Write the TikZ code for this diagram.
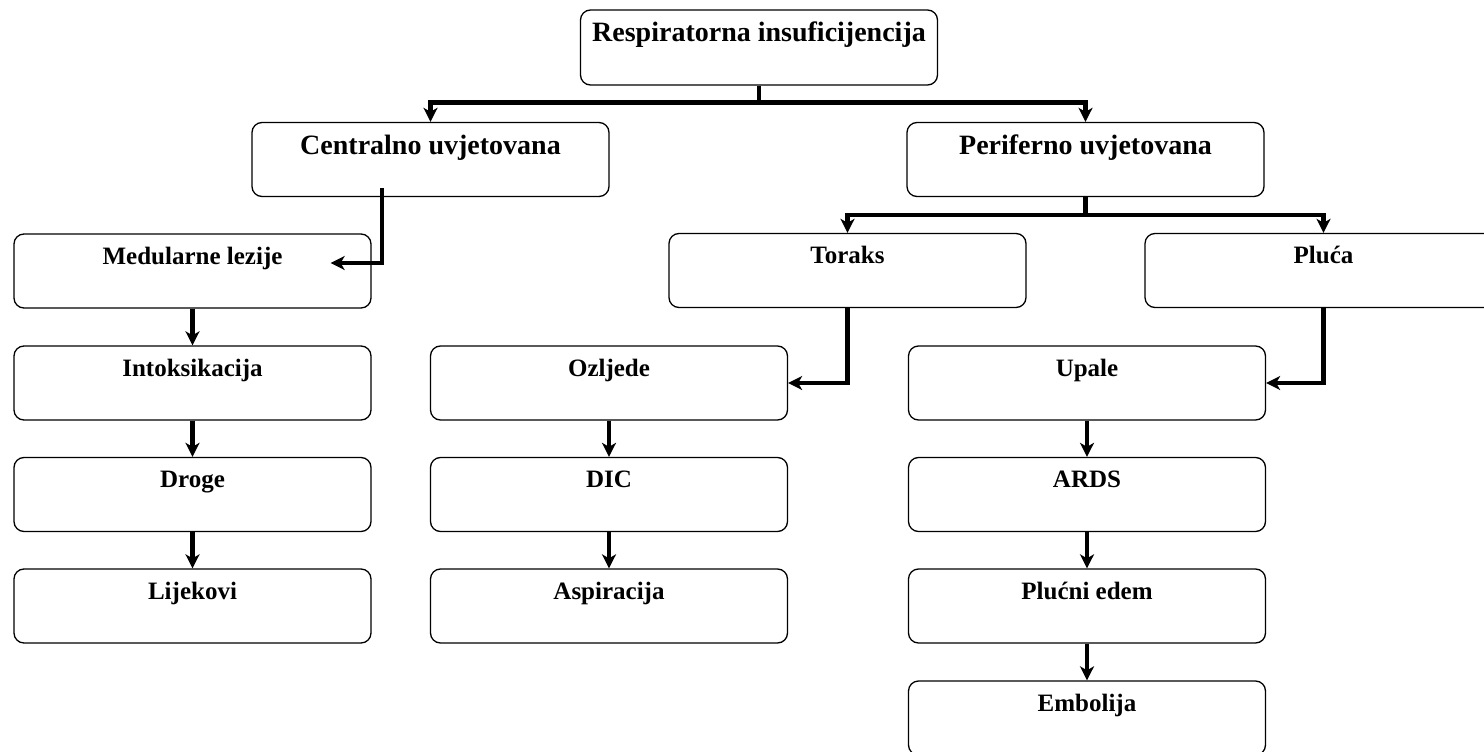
\documentclass[tikz,border=0pt]{standalone}
\usepackage{fontspec}
\setmainfont{Liberation Serif}
\usetikzlibrary{arrows.meta}

\tikzset{
  box/.style={draw, line width=1.3pt, rounded corners=10pt, minimum width=357pt,
    inner sep=0pt, text height=30pt, text depth=44pt,
    font=\fontsize{25}{30}\selectfont\bfseries},
  headbox/.style={box, text height=32pt, text depth=42pt,
    font=\fontsize{28}{32}\selectfont\bfseries},
  link/.style={line width=4.5pt, -{Stealth[length=14pt,width=14pt,inset=4pt]}}
}

\begin{document}
\begin{tikzpicture}[x=1pt,y=-1pt]
  \useasboundingbox (0,0) rectangle (1484,752);
  \clip (0,0) rectangle (1484,752);

  % Top levels
  \node[headbox, text depth=43pt] (resp) at (759,47.5) {Respiratorna insuficijencija};
  \node[headbox] (cent) at (430.5,159.5) {Centralno uvjetovana};
  \node[headbox] (peri) at (1085.5,159.5) {Periferno uvjetovana};

  \node[box] (tor) at (847.5,270.5) {Toraks};
  \node[box] (plu) at (1323.5,270.5) {Pluća};

  % Left column
  \node[box] (med) at (192.5,271) {Medularne lezije};
  \node[box] (int) at (192.5,383) {Intoksikacija};
  \node[box] (dro) at (192.5,494.5) {Droge};
  \node[box] (lij) at (192.5,606) {Lijekovi};

  % Middle column
  \node[box] (ozl) at (609,383) {Ozljede};
  \node[box] (dic) at (609,494.5) {DIC};
  \node[box] (asp) at (609,606) {Aspiracija};

  % Right column
  \node[box] (upa) at (1087,383) {Upale};
  \node[box] (ards) at (1087,494.5) {ARDS};
  \node[box] (edem) at (1087,606) {Plućni edem};
  \node[box] (emb) at (1087,718) {Embolija};

  % Branches
  \draw[link] (resp.south) -- ++(0,17) -| (cent.north);
  \draw[link] (resp.south) -- ++(0,17) -| (peri.north);
  \draw[link] (peri.south) -- ++(0,18) -| (tor.north);
  \draw[link] (peri.south) -- ++(0,18) -| (plu.north);

  \draw[link] ([xshift=-48.5pt,yshift=9pt]cent.south) |- ([xshift=-41pt,yshift=8pt]med.east);
  \draw[link] (tor.south) |- (ozl.east);
  \draw[link] (plu.south) |- (upa.east);

  % Chains
  \foreach \a/\b in {med/int, int/dro, dro/lij, ozl/dic, dic/asp, upa/ards, ards/edem, edem/emb}
    \draw[link] (\a) -- (\b);
\end{tikzpicture}
\end{document}
